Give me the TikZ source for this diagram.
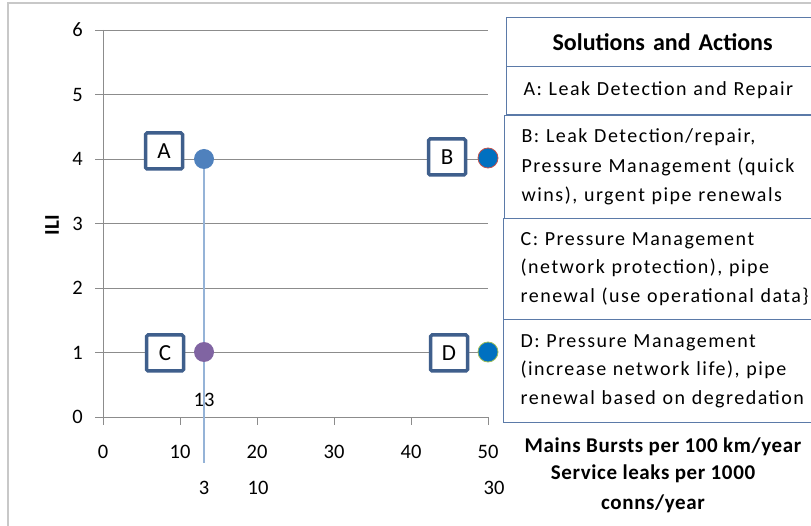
\documentclass[tikz,border=0pt]{standalone}
\usepackage{fontspec}
\setmainfont{Carlito}
\definecolor{gridgray}{HTML}{8C8C8C}
\definecolor{framegray}{HTML}{C8C8C8}
\definecolor{tagblue}{HTML}{3F5F8C}
\definecolor{cellblue}{HTML}{5B7AA8}
\definecolor{ptA}{HTML}{4F81BD}
\definecolor{ptC}{HTML}{8064A2}
\definecolor{ptBD}{HTML}{0070C0}
\definecolor{rimB}{HTML}{C0504D}
\definecolor{rimD}{HTML}{9BBB59}
\definecolor{leadblue}{HTML}{95B3D7}
\newcommand{\spreadtext}{\addfontfeature{LetterSpace=7.5}}
\tikzset{
  grid line/.style={draw=gridgray, line width=0.9pt},
  tick lbl/.style={font=\fontsize{20.5}{22}\selectfont, inner sep=0pt},
  tag/.style={draw=tagblue, line width=3.5pt, fill=white, rounded corners=1.5pt,
    minimum width=37pt, minimum height=36pt, inner sep=0pt, font=\fontsize{23}{24}\selectfont},
  dot/.style={circle, minimum size=20pt, inner sep=0pt},
  cell/.style={draw=cellblue, line width=1.2pt, anchor=north west, minimum width=312pt,
    inner xsep=17pt, inner ysep=0pt, align=left, text width=300pt,
    font=\fontsize{20}{28.5}\selectfont\spreadtext},
  axis title/.style={font=\bfseries\fontsize{21}{29.5}\selectfont\addfontfeature{LetterSpace=3},
    align=center, inner sep=0pt}
}
\begin{document}
\begin{tikzpicture}[x=1pt, y=-1pt]
\useasboundingbox (0,0) rectangle (811,526);
\fill[white] (0,0) rectangle (811,526);
% outer chart frame
\draw[framegray, line width=1.8pt] (8,540) -- (8,3) -- (830,3);

% horizontal grid lines with their left ticks
\foreach \v in {0,...,6}{
  \draw[grid line] (95,{417-64.5*\v}) -- (488,{417-64.5*\v});
  \node[tick lbl, anchor=east] (y\v) at (83,{417-64.5*\v}) {\v};
}
% y axis and x-axis ticks
\draw[grid line] (103,30) -- (103,417);
\foreach \u/\x in {0/103,10/180,20/257,30/334,40/411,50/488}{
  \draw[grid line] (\x,417) -- (\x,425);
  \node[tick lbl] (x\u) at (\x,452) {\u};
}
% second scale row
\node[tick lbl] (s3) at (204,488) {3};
\node[tick lbl] (s10) at (258,488) {10};
\node[tick lbl] (s30) at (494,488) {30};

% axis captions
\node[font=\bfseries\fontsize{21}{22}\selectfont, rotate=90, inner sep=0pt] (ili) at (52,225) {ILI};
\node[axis title] (xt1) at (663,447) {Mains Bursts per 100 km/year};
\node[axis title, anchor=north] (xt2) at (653,465) {Service leaks per 1000\\conns/year};

% data points
\coordinate (lead end) at (204,463);
\draw[leadblue, line width=1.4pt] (204,159) -- (lead end);
\node[dot, fill=ptA] (pA) at (204,159) {};
\node[dot, fill=ptC] (pC) at (204,352) {};
\node[dot, fill=ptBD, draw=rimB, line width=0.8pt] (pB) at (488,158) {};
\node[dot, fill=ptBD, draw=rimD, line width=0.8pt] (pD) at (488,352) {};
\node[tick lbl] (v13) at (204,400) {13};

% point tags
\node[tag] (tA) at (164,151) {A};
\node[tag] (tB) at (447,157) {B};
\node[tag] (tC) at (165,353) {C};
\node[tag] (tD) at (449,353) {D};

% solutions table
\node[cell, minimum height=49pt, align=center, text width=278pt, font=\bfseries\fontsize{24}{26}\selectfont] (hdr) at (506,17) {Solutions and Actions};
\node[cell, minimum height=48pt] (sA) at (506,66) {A: Leak Detection and Repair};
\node[cell, minimum height=103pt, font=\fontsize{20}{29.5}\selectfont\spreadtext] (sB) at (504,115) {B: Leak Detection/repair,\\Pressure Management (quick\\wins), urgent pipe renewals};
\node[cell, minimum height=101pt] (sC) at (503,218) {C: Pressure Management\\(network protection), pipe\\renewal (use operational data\}};
\node[cell, minimum height=103pt] (sD) at (503,319) {D: Pressure Management\\(increase network life), pipe\\renewal based on degredation};
\end{tikzpicture}
\end{document}
